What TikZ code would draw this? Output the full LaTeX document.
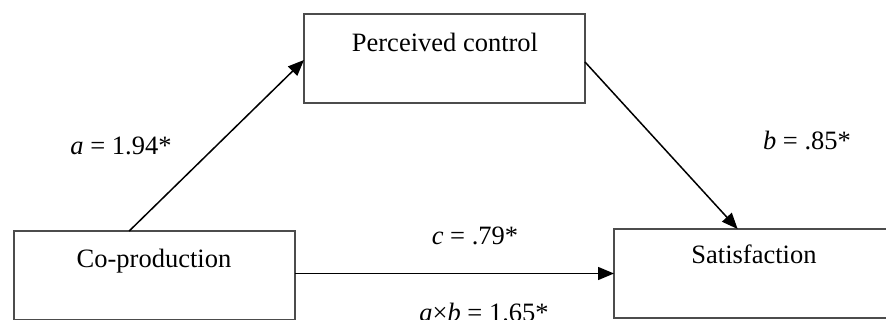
\documentclass[tikz,border=0pt]{standalone}
\usepackage{fontspec}
\setmainfont{Liberation Serif}
\usetikzlibrary{calc,arrows.meta}
\begin{document}
\begin{tikzpicture}[x=1pt,y=-1pt,
  box/.style={draw=black!70, line width=1.2pt, minimum width=281pt, minimum height=89pt, inner sep=0pt, outer sep=0pt},
  lbl/.style={font=\fontsize{26.5}{30}\selectfont, anchor=base, inner sep=0pt},
  arr/.style={line width=1.5pt, -{Triangle[length=16pt,width=13pt]}}]
\useasboundingbox (0,0) rectangle (886,320);
\clip (0,0) rectangle (886,320);
\node[box] (pc) at (444.5,58.5) {};
\node[box] (cp) at (154.5,275.5) {};
\node[box] (sat) at (754.5,273.5) {};
\node[lbl] (pct) at (445,52) {Perceived control};
\node[lbl] (cpt) at (154,268) {Co-production};
\node[lbl] (satt) at (754,264) {Satisfaction};
\node[lbl] (la) at (121,155) {\textit{a} = 1.94*};
\node[lbl] (lb) at (807,150) {\textit{b} = .85*};
\node[lbl] (lc) at (475,245) {\textit{c} = .79*};
\node[lbl] (lab) at (484,321) {\textit{a}×\textit{b} = 1.65*};
\draw[arr] ($(cp.north west)!0.41!(cp.north east)$) -- ([yshift=-1.5pt]pc.west);
\draw[arr] ([yshift=-3.5pt]pc.east) -- ($(sat.north west)!0.44!(sat.north east)$);
\draw[arr] (cp.east |- sat.west) -- (sat.west);
\end{tikzpicture}
\end{document}
